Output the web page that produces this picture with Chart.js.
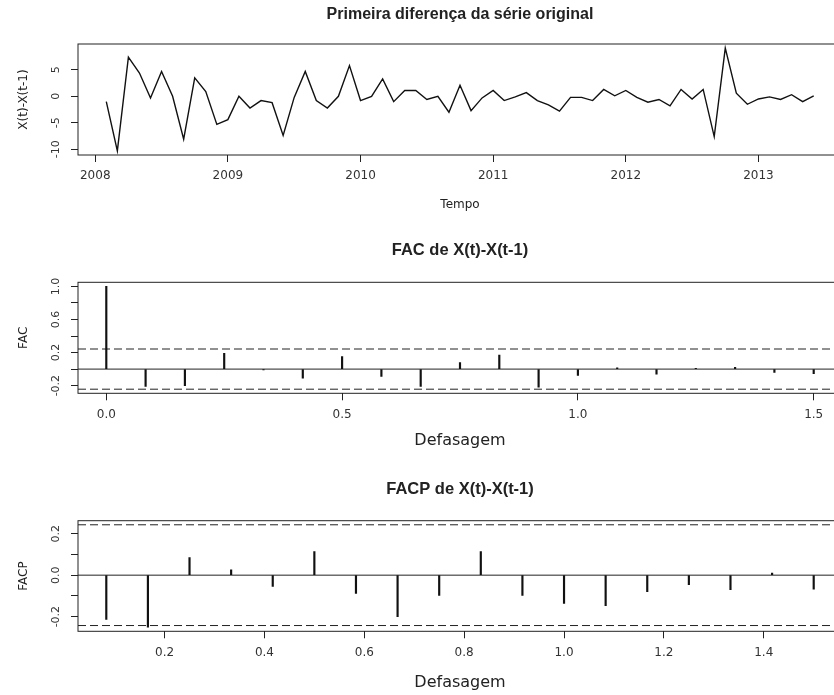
<!DOCTYPE html>
<html>
<head>
<meta charset="utf-8">
<script src="https://cdn.jsdelivr.net/npm/chart.js@4.4.1/dist/chart.umd.min.js"></script>
<style>
  body { margin: 0; background: #fff; }
  .quadro { position: relative; width: 834px; height: 695px; overflow: hidden; }
  .quadro canvas { position: absolute; left: 0; }
</style>
</head>
<body>
<div class="quadro">
  <canvas id="serie" width="850" height="225" style="top:0"></canvas>
  <canvas id="fac" width="850" height="235" style="top:225px"></canvas>
  <canvas id="facp" width="850" height="235" style="top:460px"></canvas>
</div>
<script>
  // primeira diferença, mensal de fev/2008 a jun/2013
  const inicioSerie = 2008 + 1 / 12;
  const serieDif = [
    -1.0, -10.3, 7.4, 4.4, -0.3, 4.7, 0.0, -8.1, 3.5, 0.9, -5.3,
    -4.4, 0.0, -2.2, -0.8, -1.2, -7.4, -0.2, 4.7, -0.8, -2.2, 0.0, 5.8,
    -0.8, 0.0, 3.3, -1.0, 1.1, 1.1, -0.6, 0.0, -3.0, 2.1, -2.7, -0.3,
    1.1, -0.8, -0.1, 0.7, -0.8, -1.6, -2.8, -0.2, -0.2, -0.8, 1.3, 0.1,
    1.1, -0.2, -1.1, -0.6, -1.8, 1.3, -0.5, 1.3, -7.6, 9.1, 0.6, -1.5,
    -0.5, -0.1, -0.6, 0.3, -1.0, 0.1
  ];
  const anosTicks = [2008, 2009, 2010, 2011, 2012, 2013];
  const serieYTicks = [-10, -5, 0, 5];

  // FAC, defasagens 0..18 (em anos: k/12)
  const facValores = [
    1.0, -0.21, -0.2, 0.19, -0.01, -0.11, 0.15, -0.09, -0.21, 0.08,
    0.17, -0.22, -0.077, 0.015, -0.06, 0.01, 0.02, -0.04, -0.055
  ];
  const facXTicks = [0, 0.5, 1.0, 1.5];
  const facYTicks = [-0.2, 0, 0.2, 0.4, 0.6, 0.8, 1.0];
  const facYRotulos = [-0.2, 0.2, 0.6, 1.0];

  // FACP, defasagens 1..18
  const facpValores = [
    -0.214, -0.251, 0.085, 0.026, -0.054, 0.114, -0.088, -0.2, -0.098,
    0.114, -0.098, -0.136, -0.147, -0.08, -0.046, -0.07, 0.01, -0.067
  ];
  const facpXTicks = [0.2, 0.4, 0.6, 0.8, 1.0, 1.2, 1.4];
  const facpYTicks = [-0.2, -0.1, 0, 0.1, 0.2];
  const facpYRotulos = [-0.2, 0, 0.2];

  const limiteIC = 0.243;

  // limites como o R faz (4% de folga)
  function faixa(lo, hi) {
    const d = (hi - lo) * 0.04;
    return [lo - d, hi + d];
  }

  const textosR = {
    id: "textosR",
    afterDraw(chart, args, o) {
      const ctx = chart.ctx;
      const a = chart.chartArea;
      const yS = chart.scales.y;
      ctx.save();
      ctx.strokeStyle = "#222";
      ctx.lineWidth = 1;
      ctx.strokeRect(a.left, a.top, a.right - a.left, a.bottom - a.top);

      const cx = 460;
      ctx.textAlign = "center";
      ctx.textBaseline = "middle";
      ctx.fillStyle = "#222";
      ctx.font = o.fonteTitulo;
      ctx.fillText(o.titulo, cx, o.yTitulo);
      ctx.font = o.fonteX;
      ctx.fillText(o.tituloX, cx, o.yTituloX);

      ctx.font = '12px "DejaVu Sans"';
      ctx.save();
      ctx.translate(24, (a.top + a.bottom) / 2);
      ctx.rotate(-Math.PI / 2);
      ctx.fillText(o.tituloY, 0, 0);
      ctx.restore();

      ctx.font = '11px "DejaVu Sans"';
      ctx.fillStyle = "#333";
      o.rotulosY.forEach((v) => {
        ctx.save();
        ctx.translate(56, yS.getPixelForValue(v));
        ctx.rotate(-Math.PI / 2);
        ctx.fillText(v.toFixed(o.casas), 0, 0);
        ctx.restore();
      });
      ctx.restore();
    },
  };

  function montarOpcoes(p) {
    const eixo = {
      drawOnChartArea: false,
      offset: false,
      color: "#222",
      tickLength: 7,
      lineWidth: 1,
    };
    return {
      responsive: false,
      animation: false,
      events: [],
      layout: { padding: { top: p.topo, right: 8, left: 0, bottom: 0 } },
      plugins: {
        legend: { display: false },
        tooltip: { enabled: false },
        textosR: p.textos,
      },
      scales: {
        x: {
          type: "linear",
          min: p.xFaixa[0],
          max: p.xFaixa[1],
          offset: false,
          grid: eixo,
          border: { display: false },
          ticks: {
            font: { family: "DejaVu Sans", size: 12 },
            color: "#333",
            padding: 7,
            maxRotation: 0,
            autoSkip: false,
            callback: (v) => v.toFixed(p.casasX),
          },
          afterBuildTicks: (s) => {
            s.ticks = p.xTicks.map((v) => ({ value: v }));
          },
          afterFit: (s) => {
            s.height = p.alturaX;
            s.paddingLeft = 0;
            s.paddingRight = 0;
          },
        },
        y: {
          min: p.yFaixa[0],
          max: p.yFaixa[1],
          grid: eixo,
          border: { display: false },
          ticks: { display: false },
          afterBuildTicks: (s) => {
            s.ticks = p.yTicks.map((v) => ({ value: v }));
          },
          afterFit: (s) => {
            s.width = 78;
          },
        },
      },
    };
  }

  function linhaH(y, xr, tracejada) {
    return {
      type: "line",
      data: [
        { x: xr[0], y: y },
        { x: xr[1], y: y },
      ],
      borderColor: "#222",
      borderWidth: 1,
      borderDash: tracejada ? [8, 4] : [],
      pointRadius: 0,
    };
  }

  // Painel 1: série diferenciada
  const xSerie = serieDif.map((v, i) => inicioSerie + i / 12);
  const xFaixaSerie = faixa(xSerie[0], xSerie[xSerie.length - 1]);
  new Chart(document.getElementById("serie"), {
    type: "line",
    data: {
      datasets: [
        {
          data: serieDif.map((v, i) => ({ x: xSerie[i], y: v })),
          borderColor: "#111",
          borderWidth: 1.4,
          pointRadius: 0,
          tension: 0,
        },
      ],
    },
    options: montarOpcoes({
      topo: 44,
      alturaX: 70,
      xFaixa: xFaixaSerie,
      yFaixa: faixa(Math.min(...serieDif), Math.max(...serieDif)),
      xTicks: anosTicks,
      yTicks: serieYTicks,
      casasX: 0,
      textos: {
        titulo: "Primeira diferença da série original",
        fonteTitulo: 'bold 16px "Liberation Sans", Arial, sans-serif',
        yTitulo: 15,
        tituloX: "Tempo",
        fonteX: '12px "DejaVu Sans"',
        yTituloX: 205,
        tituloY: "X(t)-X(t-1)",
        rotulosY: serieYTicks,
        casas: 0,
      },
    }),
    plugins: [textosR],
  });

  // Painel 2: FAC
  const lagsFac = facValores.map((v, k) => k / 12);
  const xFaixaFac = faixa(lagsFac[0], lagsFac[lagsFac.length - 1]);
  new Chart(document.getElementById("fac"), {
    type: "bar",
    data: {
      datasets: [
        {
          data: facValores.map((v, k) => ({ x: lagsFac[k], y: v })),
          backgroundColor: "#111",
          barThickness: 1.5,
        },
        linhaH(0, xFaixaFac, false),
        linhaH(limiteIC, xFaixaFac, true),
        linhaH(-limiteIC, xFaixaFac, true),
      ],
    },
    options: montarOpcoes({
      topo: 57.3,
      alturaX: 66.7,
      xFaixa: xFaixaFac,
      yFaixa: faixa(Math.min(-limiteIC, ...facValores), Math.max(limiteIC, ...facValores)),
      xTicks: facXTicks,
      yTicks: facYTicks,
      casasX: 1,
      textos: {
        titulo: "FAC de X(t)-X(t-1)",
        fonteTitulo: 'bold 16.5px "Liberation Sans", Arial, sans-serif',
        yTitulo: 25.7,
        tituloX: "Defasagem",
        fonteX: '16px "DejaVu Sans"',
        yTituloX: 215.7,
        tituloY: "FAC",
        rotulosY: facYRotulos,
        casas: 1,
      },
    }),
    plugins: [textosR],
  });

  // Painel 3: FACP
  const lagsFacp = facpValores.map((v, k) => (k + 1) / 12);
  const xFaixaFacp = faixa(lagsFacp[0], lagsFacp[lagsFacp.length - 1]);
  new Chart(document.getElementById("facp"), {
    type: "bar",
    data: {
      datasets: [
        {
          data: facpValores.map((v, k) => ({ x: lagsFacp[k], y: v })),
          backgroundColor: "#111",
          barThickness: 1.5,
        },
        linhaH(0, xFaixaFacp, false),
        linhaH(limiteIC, xFaixaFacp, true),
        linhaH(-limiteIC, xFaixaFacp, true),
      ],
    },
    options: montarOpcoes({
      topo: 60.7,
      alturaX: 63.7,
      xFaixa: xFaixaFacp,
      yFaixa: faixa(Math.min(-limiteIC, ...facpValores), Math.max(limiteIC, ...facpValores)),
      xTicks: facpXTicks,
      yTicks: facpYTicks,
      casasX: 1,
      textos: {
        titulo: "FACP de X(t)-X(t-1)",
        fonteTitulo: 'bold 16.5px "Liberation Sans", Arial, sans-serif',
        yTitulo: 29.3,
        tituloX: "Defasagem",
        fonteX: '16px "DejaVu Sans"',
        yTituloX: 223.3,
        tituloY: "FACP",
        rotulosY: facpYRotulos,
        casas: 1,
      },
    }),
    plugins: [textosR],
  });
</script>
</body>
</html>
